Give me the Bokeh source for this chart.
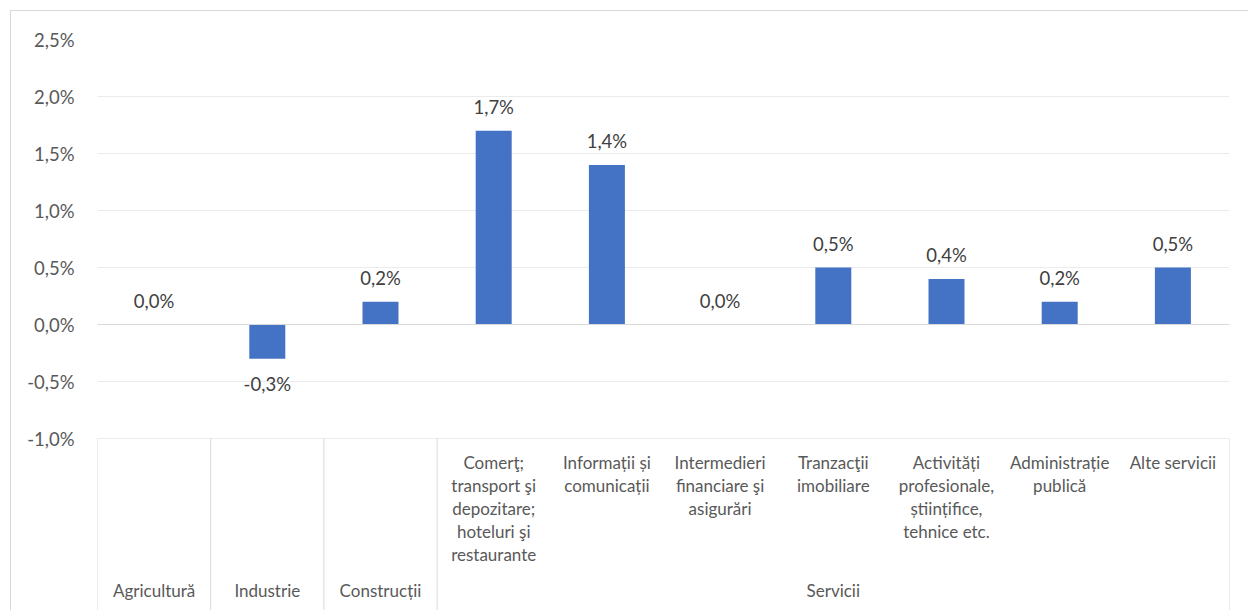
from bokeh.plotting import figure
from bokeh.models import ColumnDataSource, FixedTicker, Span, InlineStyleSheet
from bokeh.core.properties import value
from bokeh.embed import file_html
from bokeh.resources import INLINE

# ---- data ----
sectors = [
    "Agricultură",
    "Industrie",
    "Construcții",
    "Comerţ;\ntransport şi\ndepozitare;\nhoteluri şi\nrestaurante",
    "Informații și\ncomunicații",
    "Intermedieri\nfinanciare şi\nasigurări",
    "Tranzacţii\nimobiliare",
    "Activități\nprofesionale,\nștiințifice,\ntehnice etc.",
    "Administrație\npublică",
    "Alte servicii",
]
groups = ["Agricultură", "Industrie", "Construcții"] + ["Servicii"] * 7
values = [0.0, -0.3, 0.2, 1.7, 1.4, 0.0, 0.5, 0.4, 0.2, 0.5]
tick_values = [-1.0, -0.5, 0.0, 0.5, 1.0, 1.5, 2.0, 2.5]
tick_labels = ["-1,0%", "-0,5%", "0,0%", "0,5%", "1,0%", "1,5%", "2,0%", "2,5%"]

FONT = "Lato"
BAR = "#4472C4"
TXT = "#595959"
VAL = "#404040"
NUM_SIZE = "18.5px"
CAT_SIZE = "17px"

W, H = 1248, 610
PX_PER_UNIT = 114.0          # pixels per 1 percentage point
TOP = 39                      # frame top offset inside figure
ZERO_ROW = 324                # pixel row of the 0 line
y_end = 2.5
y_start = y_end - (H - TOP) / PX_PER_UNIT

css = InlineStyleSheet(css="""
:host { position: relative; }
:host::after {
  content: ""; position: absolute; left: 10px; top: 10px; right: 0; bottom: 0;
  border-left: 1px solid #d9d9d9; border-top: 1px solid #d9d9d9;
  pointer-events: none; z-index: 5;
}
""")

p = figure(width=W, height=H, output_backend="svg", toolbar_location=None,
           x_range=(0, len(sectors)), y_range=(y_start, y_end),
           min_border_left=97, min_border_right=19, min_border_top=TOP,
           min_border_bottom=0, x_axis_location=None)
p.stylesheets = [css]
p.outline_line_color = None
p.background_fill_color = "white"
p.border_fill_color = "white"
p.border_fill_alpha = 0

# y axis
p.yaxis.ticker = FixedTicker(ticks=tick_values)
p.yaxis.major_label_overrides = {t: l for t, l in zip(tick_values, tick_labels)}
p.yaxis.axis_line_color = None
p.yaxis.major_tick_line_color = None
p.yaxis.minor_tick_line_color = None
p.yaxis.major_label_standoff = 17
p.yaxis.major_label_text_font = FONT
p.yaxis.major_label_text_font_size = NUM_SIZE
p.yaxis.major_label_text_color = TXT

p.xgrid.visible = False
p.ygrid.ticker = FixedTicker(ticks=tick_values)
p.ygrid.grid_line_color = "#ebebeb"
p.ygrid.grid_line_width = 1

# zero line
p.add_layout(Span(location=0, dimension="width", line_color="#d9d9d9", line_width=1))

# bars
xs = [i + 0.5 for i in range(len(sectors))]
src = ColumnDataSource(dict(
    x=xs, top=values,
    lab=[("%.1f%%" % v).replace(".", ",") for v in values],
    yoff=[-24 if v >= 0 else 25 for v in values],
))
p.vbar(x="x", top="top", bottom=0, width=0.318, source=src,
       fill_color=BAR, line_color=None)
p.text(x="x", y="top", text="lab", y_offset="yoff", source=src,
       text_align="center", text_baseline="middle",
       text_font=value(FONT), text_font_size=NUM_SIZE, text_color=VAL)

# category axis (two levels)
def ry(yref):
    # convert a pixel row of the page to data units
    return (ZERO_ROW - yref) / PX_PER_UNIT

y_axis_bottom = tick_values[0]
inner_x = [xs[i] for i in range(len(sectors)) if groups[i] != sectors[i]]
inner_t = [sectors[i] for i in range(len(sectors)) if groups[i] != sectors[i]]
p.text(x=inner_x, y=[ry(451)] * len(inner_x), text=inner_t,
       text_align="center", text_baseline="top", text_line_height=1.1,
       text_font=value(FONT), text_font_size=CAT_SIZE, text_color=TXT)

outer_names = []
bounds = [0]
for i, g in enumerate(groups):
    if not outer_names or outer_names[-1] != g:
        if outer_names:
            bounds.append(i)
        outer_names.append(g)
bounds.append(len(groups))
outer_x = [(bounds[k] + bounds[k + 1]) / 2 for k in range(len(outer_names))]
p.text(x=outer_x, y=[ry(590)] * len(outer_x), text=outer_names,
       text_align="center", text_baseline="middle",
       text_font=value(FONT), text_font_size=CAT_SIZE, text_color=TXT)

p.segment(x0=bounds, x1=bounds, y0=[y_axis_bottom] * len(bounds),
          y1=[y_start] * len(bounds), line_color="#d9d9d9", line_width=1)

open("out.html", "w").write(file_html(p, INLINE))
